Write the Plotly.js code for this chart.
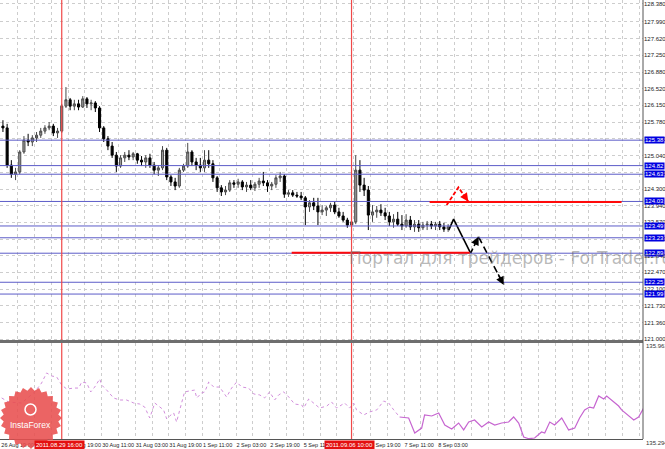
<!DOCTYPE html>
<html><head><meta charset="utf-8">
<script src="https://cdn.plot.ly/plotly-3.0.1.min.js"></script>
<style>html,body{margin:0;padding:0;background:#fff;overflow:hidden}#chart{width:665px;height:449px}</style>
</head><body><div id="chart"></div>
<script>
// ---- price data (2-hour candles) ----
const openP = [125.69,125.65,124.83,124.63,124.68,125.12,125.38,125.34,125.43,125.49,
125.58,125.65,125.69,125.54,125.58,126.13,126.27,126.13,126.18,126.11,
126.29,126.18,126.20,126.09,125.65,125.41,125.25,125.05,124.81,124.99,
125.05,125.01,125.08,124.94,124.90,124.99,124.83,124.72,124.77,125.16,
124.57,124.46,124.37,124.72,124.81,125.12,124.90,124.83,124.77,124.94,
124.86,124.55,124.33,124.24,124.28,124.44,124.41,124.46,124.35,124.39,
124.33,124.41,124.48,124.44,124.37,124.41,124.55,124.59,124.19,124.22,
124.17,124.15,124.11,123.91,124.00,123.93,123.80,123.84,123.89,123.95,
123.80,123.71,123.62,123.51,123.58,124.72,124.39,124.28,123.73,123.80,
123.84,123.78,123.71,123.58,123.64,123.53,123.49,123.62,123.47,123.53,
123.45,123.51,123.53,123.49,123.53,123.47,123.42];
const highP = [125.82,125.74,124.94,124.77,125.16,125.47,125.52,125.49,125.56,125.65,
125.71,125.78,125.74,125.65,126.18,126.55,126.31,126.27,126.27,126.35,
126.33,126.27,126.24,126.13,125.69,125.47,125.34,125.12,125.05,125.12,
125.16,125.12,125.10,125.03,125.05,125.08,124.90,124.83,125.25,125.21,
124.61,124.55,124.77,124.86,125.32,125.16,124.99,124.99,125.16,125.16,
124.94,124.59,124.39,124.37,124.50,124.50,124.53,124.50,124.46,124.50,
124.46,124.55,124.68,124.50,124.46,124.61,124.68,124.63,124.28,124.28,
124.24,124.24,124.15,124.06,124.11,124.11,123.95,123.93,124.00,124.02,
123.89,123.80,123.67,123.62,125.05,124.94,124.55,124.37,123.95,123.93,
123.97,123.89,123.80,123.75,123.80,123.73,123.75,123.71,123.62,123.62,
123.58,123.60,123.60,123.58,123.60,123.56,123.53];
const lowP = [125.56,124.77,124.55,124.50,124.63,125.08,125.25,125.25,125.34,125.43,
125.52,125.60,125.47,125.43,125.54,126.09,126.04,126.04,126.04,126.09,
126.09,126.04,126.00,125.56,125.34,125.16,124.99,124.68,124.77,124.90,
124.94,124.94,124.86,124.81,124.77,124.77,124.63,124.59,124.72,124.50,
124.37,124.28,124.33,124.68,124.77,124.81,124.72,124.68,124.68,124.77,
124.46,124.24,124.15,124.17,124.24,124.33,124.33,124.28,124.24,124.28,
124.26,124.33,124.37,124.24,124.28,124.33,124.46,124.11,124.13,124.13,
124.11,124.06,123.51,123.80,123.84,123.51,123.73,123.71,123.80,123.75,
123.67,123.58,123.45,123.40,123.53,124.24,124.15,123.40,123.58,123.67,
123.71,123.62,123.49,123.45,123.49,123.40,123.45,123.40,123.36,123.36,
123.40,123.40,123.42,123.40,123.40,123.36,123.36];
const closeP = [125.65,124.83,124.63,124.68,125.12,125.38,125.34,125.43,125.49,125.58,
125.65,125.69,125.54,125.58,126.13,126.27,126.13,126.18,126.11,126.29,
126.18,126.20,126.09,125.65,125.41,125.25,125.05,124.81,124.99,125.05,
125.01,125.08,124.94,124.90,124.99,124.83,124.72,124.77,125.16,124.57,
124.46,124.37,124.72,124.81,125.12,124.90,124.83,124.77,124.94,124.86,
124.55,124.33,124.24,124.28,124.44,124.41,124.46,124.35,124.39,124.33,
124.41,124.48,124.44,124.37,124.41,124.55,124.59,124.19,124.22,124.17,
124.15,124.11,123.91,124.00,123.93,123.80,123.84,123.89,123.95,123.80,
123.71,123.62,123.51,123.58,124.72,124.39,124.28,123.73,123.80,123.84,
123.78,123.71,123.58,123.64,123.53,123.49,123.62,123.47,123.53,123.45,
123.51,123.53,123.49,123.53,123.47,123.42,123.47];

// ---- time axis (H1 bar index) ----
const timeTickBars = [0,16,32,48,64,80,96,112,128,144,160,176,192,208];
const timeTickLabels = ["26 Aug 19:00","29 Aug 03:00","29 Aug 19:00","30 Aug 11:00","31 Aug 03:00","31 Aug 19:00","1 Sep 11:00","2 Sep 03:00","2 Sep 19:00","5 Sep 11:00","6 Sep 03:00","6 Sep 19:00","7 Sep 11:00","8 Sep 03:00"];

// ---- price scale labels ----
const priceTicks = [121.000,121.360,121.730,122.100,122.470,122.840,123.200,123.570,123.940,124.300,124.670,125.040,125.410,125.780,126.150,126.520,126.880,127.250,127.620,127.990,128.380];
const priceTickText = ["121.000","121.360","121.730","122.100","122.470","122.840","123.200","123.570","123.940","124.300","124.670","125.040","125.410","125.780","126.150","126.520","126.880","127.250","127.620","127.990","128.380"];

// ---- horizontal levels ----
const levelPrices = [125.38,124.82,124.63,124.03,123.49,123.23,122.89,122.25,121.99];
const levelText = ["125.38","124.82","124.63","124.03","123.49","123.23","122.89","122.25","121.99"];
const redLevelPrices = [124.02,122.90];
const redLevelFrom = [204.2,138.5];
const redLevelTo = [295.6,223.3];

// ---- vertical markers ----
const markerBars = [29,167];
const markerText = ["2011.08.29 16:00","2011.09.06 10:00"];

// ---- indicator (lower panel) ----
const indBarsDotted = [0.4,3.7,9.9,16.1,19.4,21.8,24.2,26.6,29.0,31.4,34.7,37.1,38.5,40.9,42.8,44.7,47.1,48.0,50.4,53.7,56.6,59.9,63.3,66.1,68.5,70.9,73.3,75.6,77.5,79.0,80.4,82.3,83.7,85.2,87.5,89.9,92.3,93.3,95.6,97.1,99.0,101.4,104.2,107.5,109.9,112.3,114.7,118.0,120.4,123.3,125.6,128.0,130.4,132.3,134.7,137.1,139.9,143.3,144.2,146.6,149.5,151.8,155.2,157.5,159.9,163.7,166.1,168.0,169.4,172.8,175.6,179.0,182.3,184.7,187.1,189.9];
const indValsDotted = [135.579,135.551,135.544,135.621,135.683,135.753,135.732,135.725,135.669,135.641,135.648,135.648,135.690,135.683,135.621,135.655,135.711,135.669,135.634,135.579,135.565,135.565,135.544,135.537,135.516,135.440,135.544,135.516,135.496,135.433,135.454,135.475,135.412,135.496,135.621,135.628,135.634,135.579,135.614,135.621,135.690,135.655,135.655,135.586,135.648,135.690,135.655,135.648,135.607,135.600,135.579,135.621,135.565,135.600,135.621,135.586,135.537,135.530,135.509,135.572,135.537,135.509,135.523,135.551,135.509,135.544,135.509,135.544,135.496,135.461,135.482,135.496,135.558,135.544,135.496,135.447];
const indBarsSolid = [189.9,194.2,197.1,200.4,201.8,205.2,208.5,211.4,214.7,218.0,220.4,222.8,225.6,229.0,232.3,235.2,238.5,241.8,244.2,246.6,249.0,251.4,254.2,257.5,259.0,261.4,263.7,267.1,270.4,273.3,275.6,278.0,280.4,282.3,284.7,287.1,288.5,290.9,294.2,295.6,299.4,301.4,303.7,306.1];
const indValsSolid = [135.447,135.440,135.336,135.370,135.461,135.454,135.475,135.391,135.364,135.405,135.357,135.412,135.426,135.377,135.412,135.391,135.405,135.412,135.447,135.405,135.308,135.296,135.301,135.343,135.336,135.412,135.391,135.440,135.357,135.370,135.440,135.496,135.516,135.509,135.593,135.572,135.593,135.565,135.523,135.496,135.447,135.426,135.447,135.509];
const indTopLabel = "135.961", indBottomLabel = "135.294";

// ---- forecast drawings ----
const fcBlackBars = [213.3,215.6,223.7,227.5,239.5];
const fcBlackPrices = [123.40,123.64,122.89,123.25,122.19];
const fcRedBars = [212.3,217.9,222.6];
const fcRedPrices = [123.95,124.34,124.03];

const watermark = "Портал для трейдеров - ForTrader.ru";
const logoText = "InstaForex";

// ---- layout geometry ----
const W = 665, H = 449, mR = 22, mB = 10;
const PW = W - mR, PH = H - mB;          // plot area 643 x 439
const mainBottomPx = 341, indTopPx = 343;
const pX = v => v / PW, pY = v => (PH - v) / PH;

const candleX = closeP.map((_, i) => 2 * i + 1);

const gridTicks = [], gridText = [];
for (let b = 0; b <= 304; b += 8) {
  gridTicks.push(b);
  const k = timeTickBars.indexOf(b);
  gridText.push(k >= 0 ? timeTickLabels[k] : "");
}

const traces = [
  {type:'candlestick', x:candleX, open:openP, high:highP, low:lowP, close:closeP,
   xaxis:'x', yaxis:'y', hoverinfo:'skip', showlegend:false, whiskerwidth:0,
   increasing:{line:{color:'#4a4a4a', width:1}, fillcolor:'#9a9a9a'},
   decreasing:{line:{color:'#000000', width:1}, fillcolor:'#000000'}},
  {type:'scatter', mode:'lines', x:indBarsDotted, y:indValsDotted, xaxis:'x', yaxis:'y2',
   line:{color:'#d28fdc', width:1, dash:'dot'}, hoverinfo:'skip', showlegend:false},
  {type:'scatter', mode:'lines', x:indBarsSolid, y:indValsSolid, xaxis:'x', yaxis:'y2',
   line:{color:'#c665d0', width:1.2}, hoverinfo:'skip', showlegend:false},
  {type:'scatter', mode:'lines', x:fcBlackBars.slice(0,3), y:fcBlackPrices.slice(0,3), xaxis:'x', yaxis:'y',
   line:{color:'#000', width:1.6}, hoverinfo:'skip', showlegend:false},
  {type:'scatter', mode:'lines', x:fcBlackBars.slice(2,4), y:fcBlackPrices.slice(2,4), xaxis:'x', yaxis:'y',
   line:{color:'#000', width:1.6, dash:'5px,3px'}, hoverinfo:'skip', showlegend:false},
  {type:'scatter', mode:'lines', x:fcBlackBars.slice(3,5), y:fcBlackPrices.slice(3,5), xaxis:'x', yaxis:'y',
   line:{color:'#000', width:1.6, dash:'7px,4px'}, hoverinfo:'skip', showlegend:false},
  {type:'scatter', mode:'lines', x:fcRedBars, y:fcRedPrices, xaxis:'x', yaxis:'y',
   line:{color:'#ff0000', width:1.8, dash:'4px,2px'}, hoverinfo:'skip', showlegend:false}
];

const shapes = [];
levelPrices.forEach(p => shapes.push({type:'line', xref:'paper', x0:0, x1:1, yref:'y', y0:p, y1:p,
  line:{color:'#5c5cc8', width:1}, layer:'above'}));
redLevelPrices.forEach((p, i) => shapes.push({type:'line', xref:'x', x0:redLevelFrom[i], x1:redLevelTo[i],
  yref:'y', y0:p, y1:p, line:{color:'#ff0a0a', width:2}, layer:'above'}));
markerBars.forEach(b => shapes.push({type:'line', xref:'x', x0:b, x1:b, yref:'paper', y0:0, y1:1,
  line:{color:'#f04848', width:1.2}, layer:'above'}));
shapes.push({type:'line', xref:'paper', x0:0, x1:1, yref:'paper', y0:pY(341.5), y1:pY(341.5),
  line:{color:'#6e6e6e', width:3}});
shapes.push({type:'line', xref:'paper', x0:1, x1:1, yref:'paper', y0:0, y1:1, line:{color:'#555', width:1}});

// InstaForex starburst logo (decoration)
const cx = 31, cy = 418, Ro = 31, Ri = 27.5, N = 24;
let d = '';
for (let k = 0; k < 2 * N; k++) {
  const r = k % 2 ? Ri : Ro, a = Math.PI * k / N;
  d += (k ? 'L' : 'M') + pX(cx + r * Math.cos(a)).toFixed(4) + ',' + pY(cy + r * Math.sin(a)).toFixed(4);
}
d += 'Z';
shapes.push({type:'path', xref:'paper', yref:'paper', path:d, fillcolor:'rgba(232,78,78,0.88)', line:{width:0}, layer:'above'});
shapes.push({type:'circle', xref:'paper', yref:'paper', x0:pX(25), x1:pX(36), y0:pY(415), y1:pY(404),
  line:{color:'#fff', width:1.5}, fillcolor:'rgba(0,0,0,0)', layer:'above'});

const annotations = [];
const smallFont = {family:'Liberation Sans, Arial, sans-serif', size:6};
levelPrices.forEach((p, i) => annotations.push({xref:'paper', x:1, xanchor:'left', xshift:1, yref:'y', y:p, yanchor:'middle',
  text:levelText[i], showarrow:false, bgcolor:'#0000e0', borderpad:0, font:Object.assign({color:'#fff'}, smallFont)}));
markerBars.forEach((b, i) => annotations.push({xref:'x', x:b, xanchor:'center', xshift:-2, yref:'paper', y:0, yanchor:'top', yshift:-1,
  text:markerText[i], showarrow:false, bgcolor:'#e41010', borderpad:1, font:Object.assign({color:'#fff'}, smallFont)}));
annotations.push({xref:'paper', x:1, xanchor:'left', xshift:1, yref:'paper', y:pY(346), yanchor:'middle',
  text:indTopLabel, showarrow:false, font:Object.assign({color:'#333'}, smallFont)});
annotations.push({xref:'paper', x:1, xanchor:'left', xshift:1, yref:'paper', y:pY(442.5), yanchor:'middle',
  text:indBottomLabel, showarrow:false, font:Object.assign({color:'#333'}, smallFont)});
annotations.push({xref:'paper', x:pX(347), xanchor:'left', yref:'paper', y:pY(258), yanchor:'middle',
  text:watermark, showarrow:false, font:{family:'DejaVu Sans, sans-serif', size:17, color:'rgba(115,115,115,0.5)'}});
annotations.push({xref:'paper', x:pX(31), xanchor:'center', yref:'paper', y:pY(425), yanchor:'middle',
  text:logoText, showarrow:false, font:{family:'Liberation Sans, Arial, sans-serif', size:8.5, color:'#fff'}});
function head(x, y, fx, fy, color) {
  annotations.push({xref:'x', yref:'y', x:x, y:y, axref:'x', ayref:'y',
    ax: x - (x - fx) * 0.25, ay: y - (y - fy) * 0.25, showarrow:true, arrowhead:2, arrowsize:1.1,
    arrowwidth:1.5, arrowcolor:color, text:''});
}
head(fcBlackBars[4], fcBlackPrices[4], fcBlackBars[3], fcBlackPrices[3], '#000');
head(fcBlackBars[3], fcBlackPrices[3], fcBlackBars[2], fcBlackPrices[2], '#000');
head(fcRedBars[2], fcRedPrices[2], fcRedBars[1], fcRedPrices[1], '#ff0000');

const gridStyle = {gridcolor:'#cdcdcd', griddash:'3px,3px', gridwidth:1};
const layout = {
  width:W, height:H, margin:{l:0, r:mR, t:0, b:mB, pad:0},
  paper_bgcolor:'#fff', plot_bgcolor:'#fff', showlegend:false,
  font:{family:'Liberation Sans, Arial, sans-serif', size:6, color:'#222'},
  xaxis:Object.assign({range:[-0.4, 305.8], anchor:'y2', tickmode:'array', tickvals:gridTicks, ticktext:gridText,
    tickangle:0, ticklabelposition:'outside right', tickfont:{size:5.5, color:'#222'}, showgrid:true, zeroline:false,
    showline:true, linecolor:'#555', linewidth:1, ticks:'', rangeslider:{visible:false}, fixedrange:true}, gridStyle),
  yaxis:Object.assign({domain:[pY(mainBottomPx), 1], range:[120.956, 128.468], side:'right', anchor:'x',
    tickmode:'array', tickvals:priceTicks, ticktext:priceTickText, tickfont:{size:6, color:'#222'},
    showgrid:true, zeroline:false, showline:false, ticks:'', fixedrange:true}, gridStyle),
  yaxis2:{domain:[0, pY(indTopPx)], range:[135.294, 135.961], anchor:'x', showticklabels:false,
    showgrid:false, zeroline:false, showline:false, fixedrange:true},
  shapes:shapes, annotations:annotations
};
Plotly.newPlot('chart', traces, layout, {staticPlot:true, displayModeBar:false});
</script>
</body></html>
